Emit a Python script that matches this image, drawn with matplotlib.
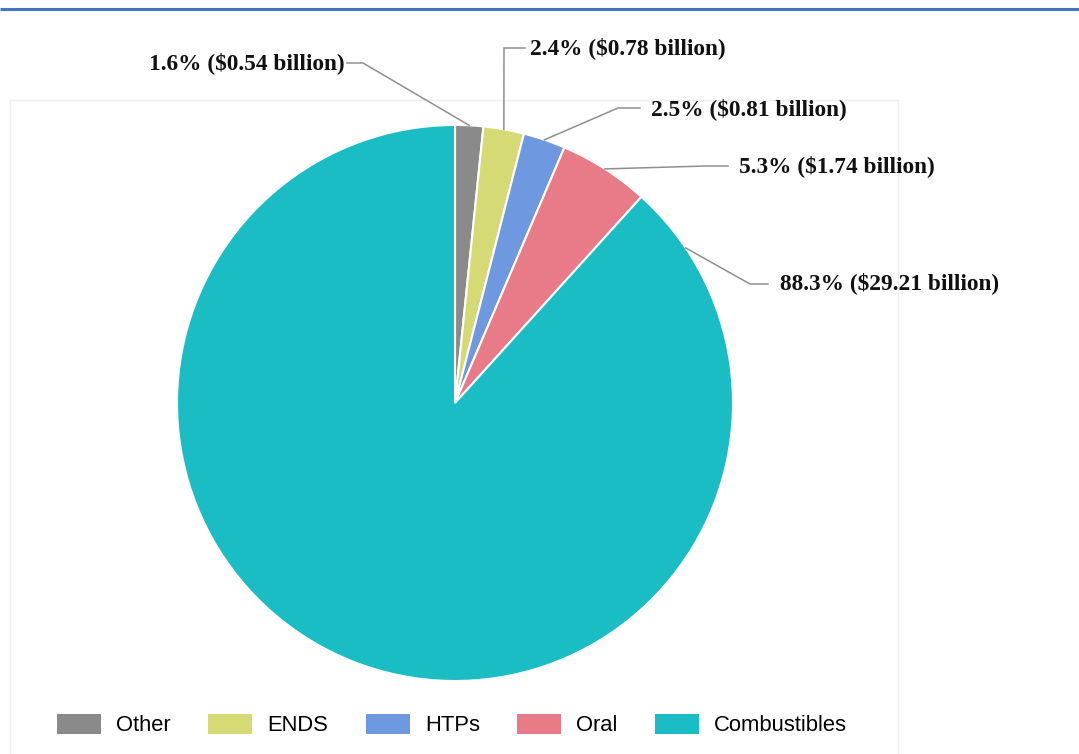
import math
import matplotlib
matplotlib.use("Agg")
import matplotlib.pyplot as plt
from matplotlib.patches import Rectangle, Patch
from matplotlib.font_manager import FontProperties

# Tobacco market revenue by product category
categories = ["Other", "ENDS", "HTPs", "Oral", "Combustibles"]
revenue_billion = [0.54, 0.78, 0.81, 1.74, 29.21]
share_pct = [1.6, 2.4, 2.5, 5.3, 88.3]

colors = ["#8a8a8a", "#d5da74", "#6e98e0", "#e97a88", "#1bbdc5"]

# Canvas in pixel units (origin bottom-left)
W, H = 1079, 754
fig = plt.figure(figsize=(W / 100, H / 100), dpi=100)
ax = fig.add_axes([0, 0, 1, 1])

cx, cy, R = 455, H - 403, 278
wedges, _ = ax.pie(
    revenue_billion,
    colors=colors,
    startangle=90,
    counterclock=False,
    center=(cx, cy),
    radius=R,
    wedgeprops=dict(edgecolor="white", linewidth=1.5),
)
ax.set_xlim(0, W)
ax.set_ylim(0, H)
ax.set_aspect("equal")
ax.axis("off")

# Header rule and light chart frame
ax.plot([0, W], [H - 8.5, H - 8.5], color="#4472c4", lw=2.2, solid_capstyle="butt")
ax.add_patch(Rectangle((10, -2), 888, H - 100 + 2, fill=False,
                       edgecolor="#eeeeee", lw=1.0))

# Where each connector meets its wedge (fraction of the sweep from the wedge's start)
anchor_frac = [0.5, 0.5, 0.5, 0.5, 0.044]

# Label layout in pixels from the top: text anchor, knee and end of connector
text_pos = [(345, 63, "right"), (530, 48, "left"), (651, 109, "left"),
            (739, 166, "left"), (780, 283, "left")]
knee_pos = [(363, 63), (504, 48), (618, 108), (706, 166), (750, 284)]
end_pos = [(347, 63), (525, 48), (640, 108), (728, 166), (768, 284)]

label_font = FontProperties(family="Liberation Serif", weight="bold", size=16.8)

for w, f, pct, val, (tx, ty, ha), (kx, ky), (ex, ey) in zip(
        wedges, anchor_frac, share_pct, revenue_billion, text_pos, knee_pos, end_pos):
    # clockwise sweep: start at theta2, move toward theta1
    ang = w.theta2 - f * (w.theta2 - w.theta1)
    ax_pt = cx + R * math.cos(math.radians(ang))
    ay_pt = cy + R * math.sin(math.radians(ang))
    ax.plot([ax_pt, kx, ex], [ay_pt, H - ky, H - ey], color="#8f8f8f", lw=1.1,
            solid_joinstyle="miter")
    ax.text(tx, H - ty, f"{pct}% (\\${val:.2f} billion)", ha=ha, va="center",
            fontproperties=label_font, color="#111111")

legend_handles = [Patch(facecolor=c, edgecolor="none") for c in colors]
fig.legend(
    legend_handles, categories,
    loc="center left", bbox_to_anchor=(57 / W, (H - 725) / H),
    ncol=5, frameon=False,
    prop=FontProperties(family="Liberation Sans", size=15.8),
    handlelength=2.0, handleheight=1.05, handletextpad=0.7,
    columnspacing=1.70, borderpad=0, borderaxespad=0,
)

fig.savefig("out.png", dpi=100, facecolor="white")
